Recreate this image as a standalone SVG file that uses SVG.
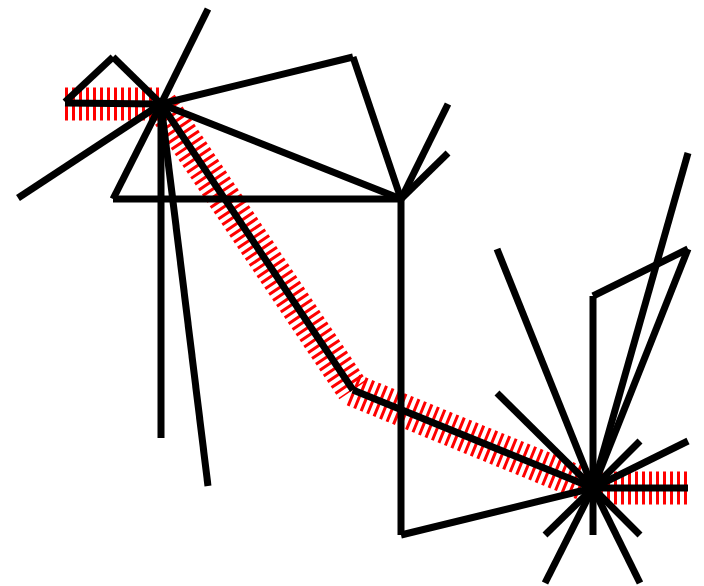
<svg xmlns="http://www.w3.org/2000/svg" width="704" height="586" viewBox="0 0 704 586">
<style>
.e{stroke:#000;stroke-width:7;fill:none;stroke-linecap:butt}
.h{stroke:#f00;stroke-width:33;fill:none;stroke-dasharray:3 4}
</style>
<rect width="704" height="586" fill="#fff"/>
<g id="highlight">
<line class="h" x1="65" y1="104" x2="161" y2="104"/>
<line class="h" x1="161" y1="104" x2="353" y2="390"/>
<line class="h" x1="353" y1="390" x2="593" y2="488"/>
<line class="h" x1="593" y1="488" x2="688" y2="488"/>
</g>
<g id="connectors">
<line class="e" x1="65" y1="103" x2="161" y2="104"/>
<line class="e" x1="65" y1="102" x2="113" y2="57"/>
<line class="e" x1="113" y1="57" x2="161" y2="104"/>
<line class="e" x1="161" y1="104" x2="208" y2="9"/>
<line class="e" x1="161" y1="104" x2="353" y2="57"/>
<line class="e" x1="161" y1="104" x2="401" y2="199"/>
<line class="e" x1="161" y1="104" x2="18" y2="198"/>
<line class="e" x1="161" y1="104" x2="113" y2="199"/>
<line class="e" x1="113" y1="199" x2="401" y2="199"/>
<line class="e" x1="161" y1="104" x2="161" y2="438"/>
<line class="e" x1="161" y1="104" x2="208" y2="486"/>
<line class="e" x1="161" y1="104" x2="353" y2="390"/>
<line class="e" x1="353" y1="390" x2="593" y2="488"/>
<line class="e" x1="353" y1="57" x2="401" y2="199"/>
<line class="e" x1="401" y1="199" x2="448" y2="104"/>
<line class="e" x1="401" y1="199" x2="448" y2="153"/>
<line class="e" x1="401" y1="199" x2="401" y2="535"/>
<line class="e" x1="401" y1="535" x2="593" y2="488"/>
<line class="e" x1="593" y1="488" x2="688" y2="488"/>
<line class="e" x1="593" y1="488" x2="497" y2="249"/>
<line class="e" x1="593" y1="488" x2="593" y2="296"/>
<line class="e" x1="593" y1="296" x2="688" y2="249"/>
<line class="e" x1="688" y1="249" x2="593" y2="488"/>
<line class="e" x1="593" y1="488" x2="688" y2="153"/>
<line class="e" x1="593" y1="488" x2="497" y2="393"/>
<line class="e" x1="593" y1="488" x2="640" y2="441"/>
<line class="e" x1="593" y1="488" x2="688" y2="441"/>
<line class="e" x1="593" y1="488" x2="593" y2="535"/>
<line class="e" x1="593" y1="488" x2="545" y2="535"/>
<line class="e" x1="593" y1="488" x2="640" y2="535"/>
<line class="e" x1="593" y1="488" x2="545" y2="583"/>
<line class="e" x1="593" y1="488" x2="640" y2="583"/>
</g>
</svg>
